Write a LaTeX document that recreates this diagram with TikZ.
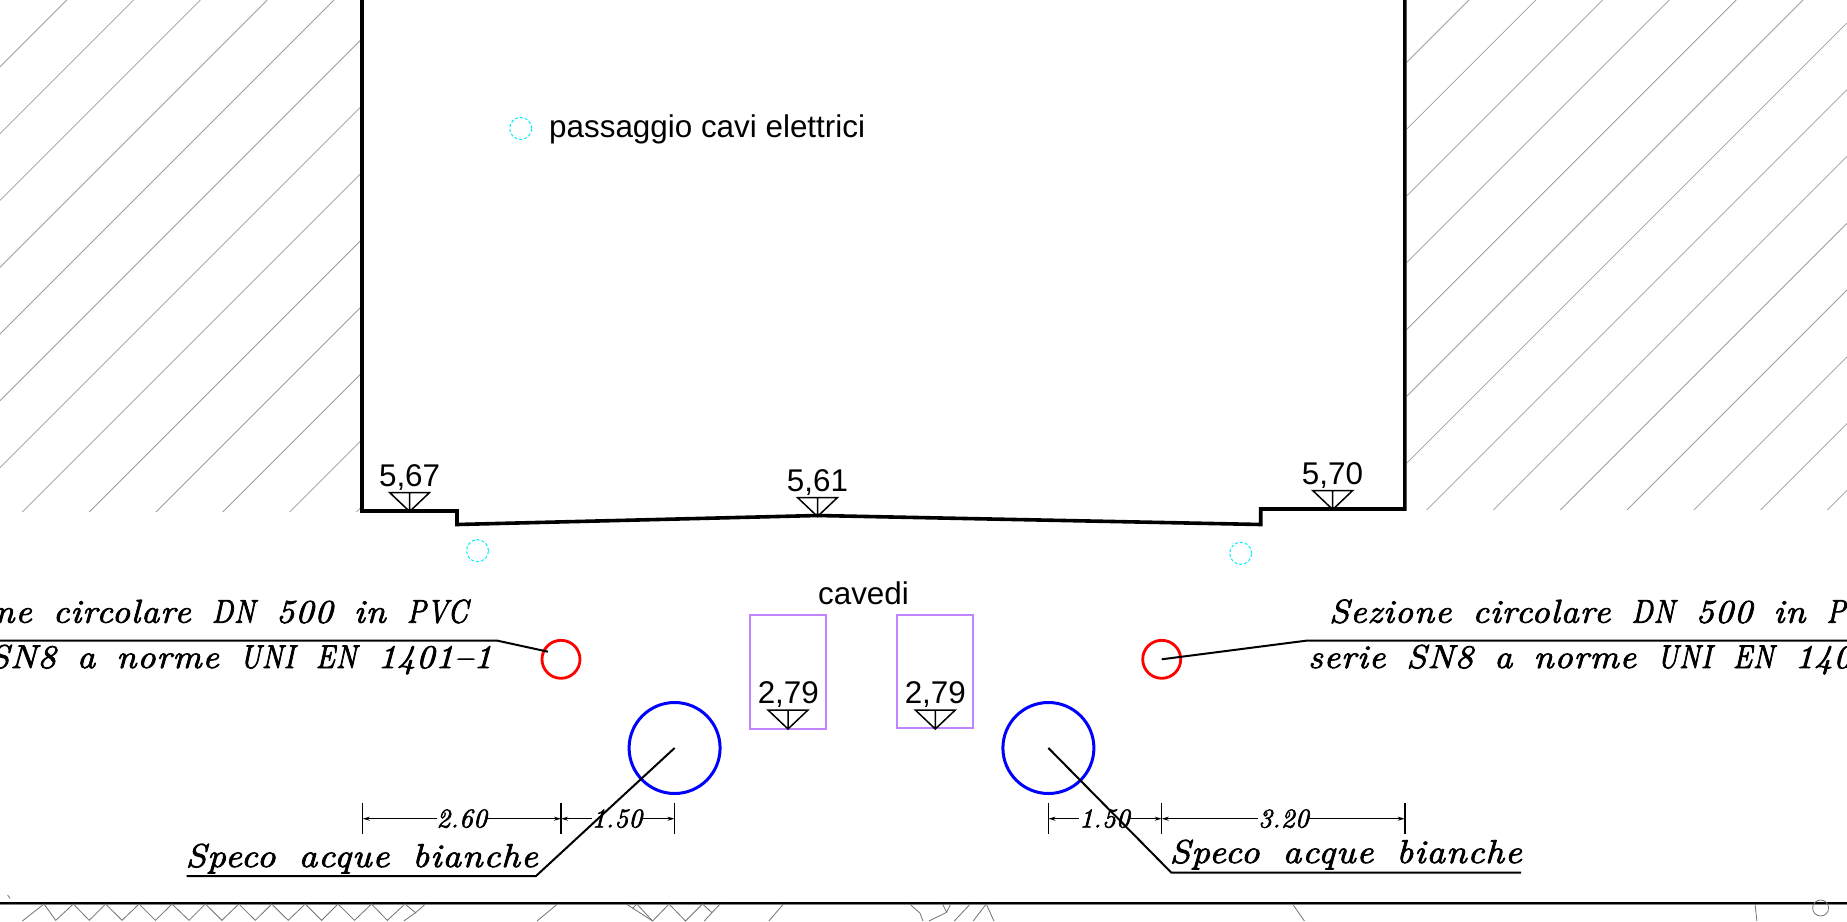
\documentclass[tikz,border=0pt]{standalone}
\usepackage{fontspec}
\usetikzlibrary{arrows.meta}
\setmainfont{Liberation Sans}
\newfontfamily\cadfont[LetterSpace=3,WordSpace=1.55,FakeStretch=1.1,FakeBold=2.5]{Latin Modern Roman}
\newfontfamily\cadwide[LetterSpace=3,WordSpace=1.65,FakeStretch=1.13,FakeBold=2.5]{Latin Modern Roman}
\newfontfamily\cadcap[LetterSpace=3,WordSpace=1.55,FakeStretch=0.87,FakeBold=2.5]{Latin Modern Roman}
\newfontfamily\caddim[LetterSpace=2,FakeBold=2.5]{Latin Modern Roman}
\newcommand{\capw}[1]{{\cadcap\itshape #1}}
\definecolor{cablecol}{RGB}{0,240,250}
\definecolor{cavcol}{HTML}{C084FF}
\begin{document}
\begin{tikzpicture}[x=1pt,y=-1pt,
  hatch/.style={draw=black!38,line width=0.8pt},
  wall/.style={draw=black,line width=3.6pt,line join=miter},
  leader/.style={draw=black,line width=2pt},
  dimline/.style={draw=black,line width=1.5pt},
  arrowed/.style={dimline,{Stealth[length=7pt,width=4pt]}-{Stealth[length=7pt,width=4pt]}},
  sans/.style={font=\fontsize{31.4}{31.4}\selectfont,inner sep=0pt},
  cad/.style={font=\fontsize{33}{33}\cadfont\itshape,inner sep=0pt},
  cadw/.style={font=\fontsize{33}{33}\cadwide\itshape,inner sep=0pt},
  dimtext/.style={font=\fontsize{27}{27}\caddim\itshape,inner sep=0pt,fill=white},
  tri/.style={draw=black,line width=1.5pt},
  cav/.style={draw=cavcol,line width=2pt},
  pipeR/.style={circle,draw=red,line width=2.8pt,minimum size=38pt,inner sep=0pt},
  pipeB/.style={circle,draw=blue,line width=3pt,minimum size=91pt,inner sep=0pt},
  cable/.style={circle,draw=cablecol,densely dashed,line width=1pt,minimum size=22pt,inner sep=0pt},
  ground/.style={draw=black!55,line width=0.8pt}]
\useasboundingbox (0,0) rectangle (1847,921);
\clip (0,0) rectangle (1847,921);
\fill[white] (0,0) rectangle (1847,921);
% hatching
\begin{scope}
\clip (0,0) rectangle (360,511);
\foreach \k in {1,...,13} \draw[hatch] ({66.8*\k},0) -- ({66.8*\k-600},600);
\end{scope}
\begin{scope}
\clip (1407,0) rectangle (1847,509);
\foreach \k in {0,...,13} \draw[hatch] ({1469+66.8*\k},0) -- ({1469+66.8*\k-600},600);
\end{scope}
% channel outline
\draw[wall] (362,0) -- (362,511) -- (457,511) -- (457,524.5) -- (817.5,515.5) -- (1260.7,524.5) -- (1260.7,509) -- (1404.8,509) -- (1404.8,0);
% levels
\newcommand{\lev}[5]{%
  \node[sans,anchor=base] (#5) at (#3,#4) {#1};
  \coordinate (#5a) at (#2,#4+25.5);
  \draw[tri] (#2-20,#4+6.5) -- (#2+20,#4+6.5) -- (#2,#4+25.5) -- cycle (#2,#4+6.5) -- (#2,#4+25.5);
}
\lev{5,67}{409.6}{409.6}{486}{la}
\lev{5,61}{817.5}{817.5}{491}{lb}
\lev{5,70}{1332.7}{1332.5}{484}{lc}
% cavities
\draw[cav] (750,615.3) rectangle (826,728.7);
\draw[cav] (897.3,614.7) rectangle (973.3,728);
\lev{2,79}{788}{788.3}{703.5}{ld}
\lev{2,79}{935.3}{935.3}{703.5}{le}
\node[sans,anchor=base] (cavedi) at (863.5,604) {cavedi};
% cable passages
\node[cable] (c1) at (520.7,128.4) {};
\node[sans,anchor=base west] (cavi) at (549,137) {passaggio cavi elettrici};
\node[cable] (c2) at (477.5,550.7) {};
\node[cable] (c3) at (1240.7,553.3) {};
% pipes
\node[pipeR] (rl) at (561,659.3) {};
\node[pipeR] (rr) at (1161.7,659.3) {};
\node[pipeB] (bl) at (674.6,748) {};
\node[pipeB] (br) at (1048.4,748) {};
% dimensions
\foreach \n/\x in {t1/362.7,t2/561,t3/674.6,t4/1048.4,t5/1161.7,t6/1404.8}{
  \coordinate (\n u) at (\x,803);
  \coordinate (\n d) at (\x,834);
  \draw[dimline] (\n u) -- (\n d);
}
\coordinate (a1) at (362.7,818.7);
\coordinate (a2) at (561,818.7);
\coordinate (a3) at (674.6,818.7);
\coordinate (a4) at (1048.4,818.7);
\coordinate (a5) at (1161.7,818.7);
\coordinate (a6) at (1404.8,818.7);
\draw[arrowed] (a1) -- (a2);
\draw[arrowed] (a2) -- (a3);
\draw[arrowed] (a4) -- (a5);
\draw[arrowed] (a5) -- (a6);
\node[dimtext] (d1) at (461.7,818.7) {2.60};
\node[dimtext] (d2) at (617,818.7) {1.50};
\node[dimtext] (d3) at (1104.5,818.7) {1.50};
\node[dimtext] (d4) at (1283.5,818.7) {3.20};
% leaders
\coordinate (lr1) at (497.6,640.7);
\coordinate (lr0) at (-5,640.7);
\coordinate (lrend) at (548,651.7);
\draw[leader] (lr0) -- (lr1) -- (lrend);
\coordinate (rr1) at (1306,640.7);
\coordinate (rr0) at (1852,640.7);
\draw[leader] (rr.center) -- (rr1) -- (rr0);
\coordinate (lb1) at (536,876);
\coordinate (lb0) at (186.6,876);
\draw[leader] (bl.center) -- (lb1) -- (lb0);
\coordinate (rb1) at (1171.4,872.7);
\coordinate (rb0) at (1521,872.7);
\draw[leader] (br.center) -- (rb1) -- (rb0);
% labels
\node[cad,anchor=base east] (l1) at (468,622.7) {Sezione circolare \capw{DN} 500 in \capw{PVC}};
\node[cad,anchor=base east] (l2) at (492,668) {serie SN8 a norme \capw{UNI} \capw{EN} 1401–1};
\node[cad,anchor=base west] (l3) at (1329,622.7) {Sezione circolare \capw{DN} 500 in \capw{PVC}};
\node[cad,anchor=base west] (l4) at (1308,668) {serie SN8 a norme \capw{UNI} \capw{EN} 1401–1};
\node[cadw,anchor=base west] (l5) at (185.5,867) {Speco acque bianche};
\node[cadw,anchor=base west] (l6) at (1169.5,863) {Speco acque bianche};
% ground line
\draw[draw=black!50,line width=3.4pt] (0,903.3) -- (1847,903.3);
\draw[draw=black,line width=1.8pt] (0,903.3) -- (1847,903.3);
\begin{scope}[x=0.5869pt,y=-0.3333pt,yshift=-880pt]
\draw[ground] (38,123) -- (75,72) -- (95,121) -- (125,72) -- (152,121) -- (180,72) -- (208,121) -- (237,72) -- (265,121) -- (293,72) -- (322,121) -- (350,72) -- (378,121) -- (407,72) -- (435,121) -- (463,72) -- (491,121) -- (520,72) -- (548,121) -- (576,72) -- (604,121) -- (633,72) -- (660,121) -- (690,72) -- (708,98) -- (725,72);
\draw[ground] (708,98) -- (688,123);
\draw[ground] (950,72) -- (915,123);
\draw[ground] (1067,72) -- (1112,123) -- (1140,72) -- (1168,123) -- (1197,72) -- (1213,98) -- (1227,72);
\draw[ground] (1085,72) -- (1112,123);
\draw[ground] (1078,85) -- (1085,72);
\draw[ground] (1213,98) -- (1200,123);
\draw[ground] (1335,72) -- (1310,123);
\draw[ground] (1550,72) -- (1568,100);
\draw[ground] (13,45) -- (17,55);
\end{scope}
\begin{scope}[x=0.5914pt,y=-0.3333pt,yshift=-880pt,xshift=920pt]
\draw[ground] (0,100) -- (5,123);
\draw[ground] (38,72) -- (45,97) -- (52,72);
\draw[ground] (45,97) -- (15,123);
\draw[ground] (85,72) -- (58,123);
\draw[ground] (112,72) -- (90,123);
\draw[ground] (112,72) -- (125,123);
\draw[ground] (630,72) -- (650,123);
\draw[ground] (1412,72) -- (1415,123);
\end{scope}
\draw[ground] (1820.6,908) circle (8);
\end{tikzpicture}
\end{document}
